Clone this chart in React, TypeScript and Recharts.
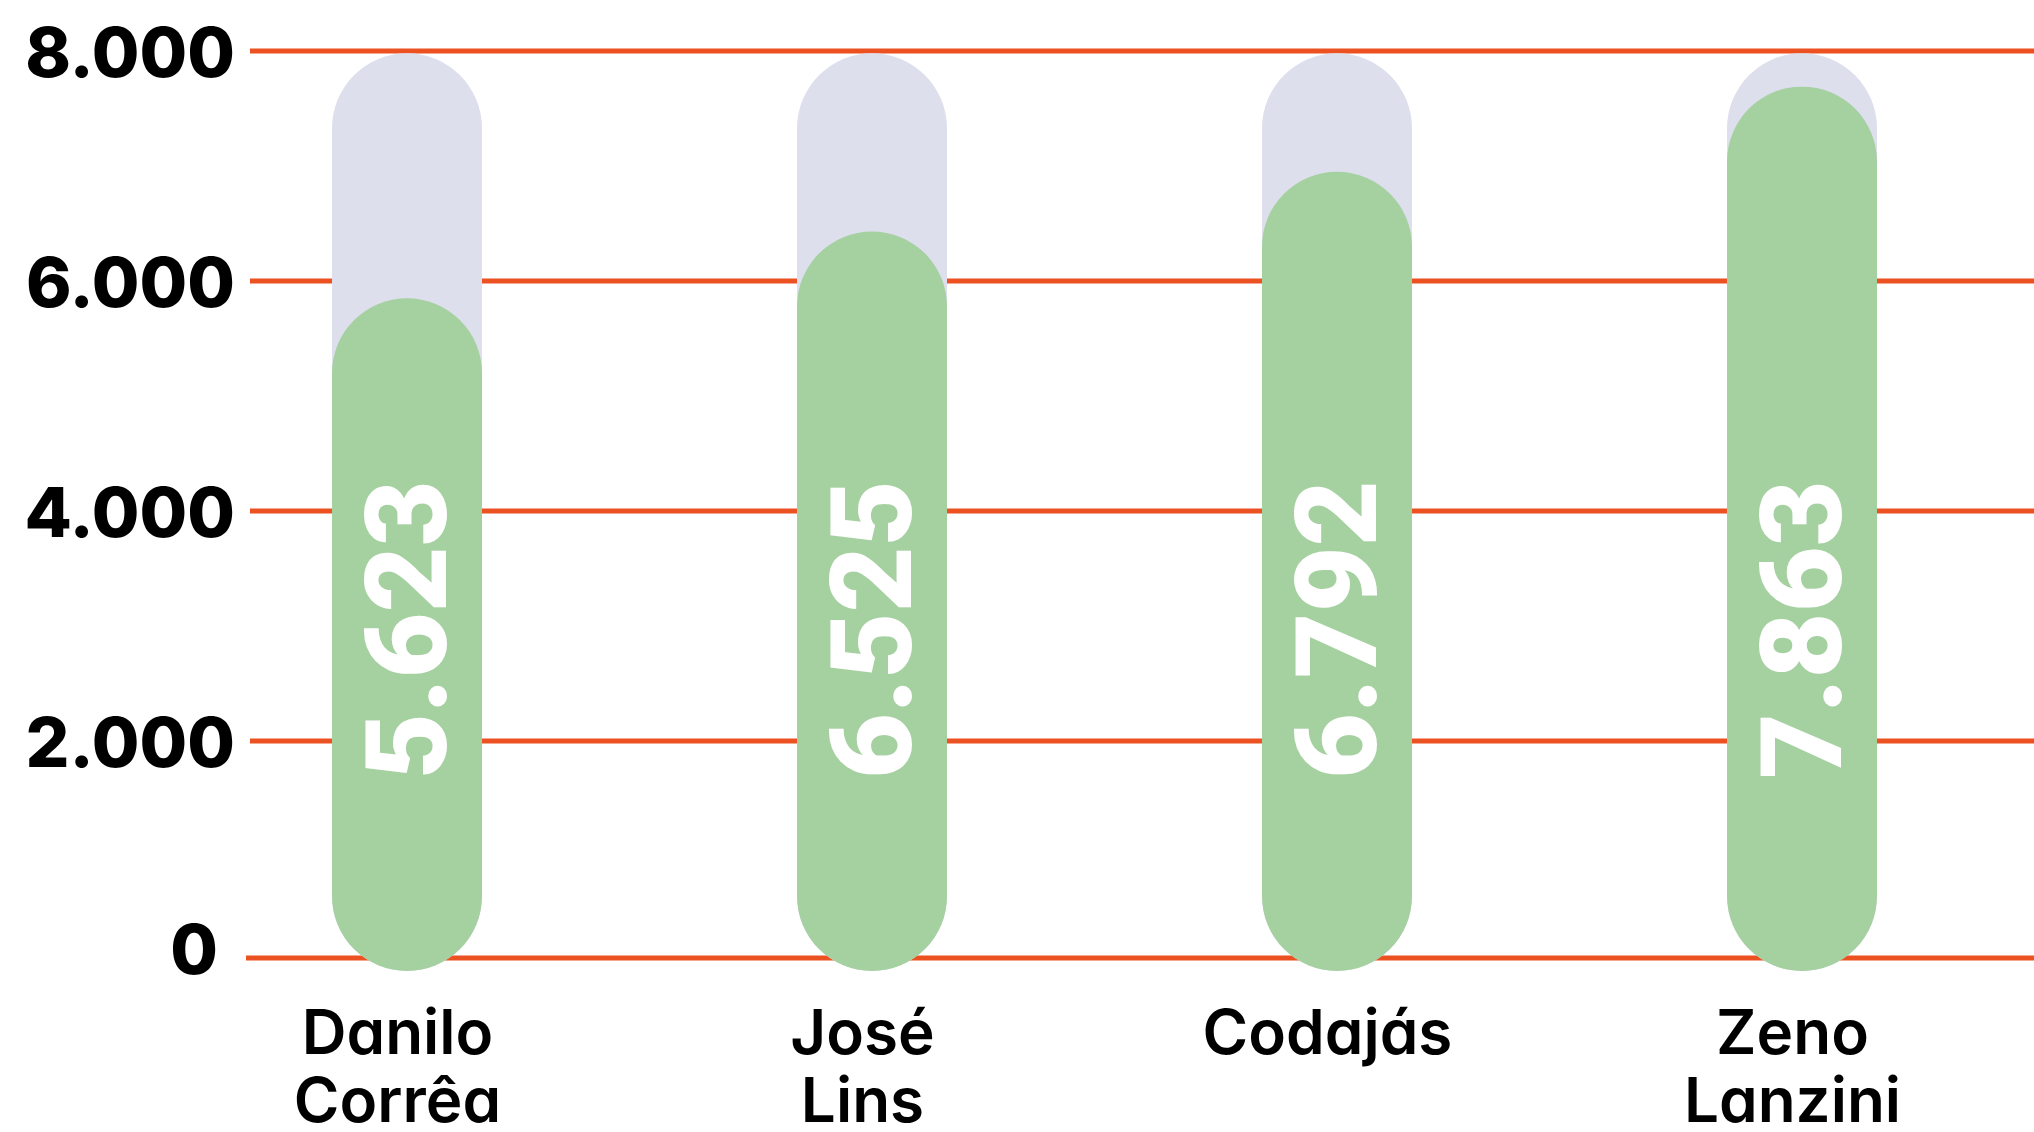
// rounded bar chart - vereadores votes

import { BarChart, Bar, XAxis, YAxis, CartesianGrid, LabelList } from "recharts";

const categories = ["Danilo Corrêa", "José Lins", "Codajás", "Zeno Lanzini"];

// bar heights as drawn in the picture
const barValues = [5850, 6430, 6950, 7690];

// text printed inside each bar
const valueLabels = ["5.623", "6.525", "6.792", "7.863"];

// light track behind each bar
const trackValues = [7980, 7980, 7980, 7980];

const yTicks = [0, 2000, 4000, 6000, 8000];
const yTickLabels = ["0", "2.000", "4.000", "6.000", "8.000"];

const data = categories.map((name, i) => ({
  name,
  value: barValues[i],
  track: trackValues[i],
  label: valueLabels[i],
}));

// layout
const W = 2034;
const H = 1132;
const TOP = 51;
const PLOT_H = 920;
const BASE_Y = TOP + PLOT_H;

const GREEN = "#a5d0a0";
const TRACK = "#dedfed";
const ORANGE = "#ec5122";

function gridLine(p: any) {
  const isBase = Math.abs(p.y1 - BASE_Y) < 1;
  const y = isBase ? p.y1 - 13 : p.y1;
  return (
    <line
      key={p.key}
      x1={p.x1 + (isBase ? 72 : 76)}
      x2={p.x2 + 10}
      y1={y}
      y2={y}
      stroke={ORANGE}
      strokeWidth={5}
    />
  );
}

function YTick(p: any) {
  const v = p.payload.value;
  const isZero = v === 0;
  return (
    <text
      x={p.x + (isZero ? 44 : 61)}
      y={isZero ? p.y - 22 : p.y + 1}
      textAnchor="end"
      dominantBaseline="central"
      fill="#000"
      style={{ fontFamily: "Inter", fontWeight: 800, fontSize: 69 }}
    >
      {yTickLabels[yTicks.indexOf(v)]}
    </text>
  );
}

function XTick(p: any) {
  const lines = String(p.payload.value).split(" ");
  const cx = p.x - 9;
  return (
    <text
      x={cx}
      y={p.y}
      textAnchor="middle"
      fill="#000"
      style={{ fontFamily: "Inter", fontWeight: 600, fontSize: 62, fontFeatureSettings: '"cv11"' }}
    >
      {lines.map((l, i) => (
        <tspan key={i} x={cx} dy={i === 0 ? 83 : 68}>
          {l}
        </tspan>
      ))}
    </text>
  );
}

function ValueLabel(p: any) {
  const { x, y, width, height, value } = p;
  const cx = x + width / 2;
  const sy = y + height - 192;
  return (
    <text
      x={cx}
      y={sy}
      transform={`rotate(-90, ${cx}, ${sy})`}
      textAnchor="start"
      dominantBaseline="central"
      fill="#fff"
      style={{ fontFamily: "Roboto", fontWeight: 900, fontSize: 114 }}
    >
      {value}
    </text>
  );
}

export default function App() {
  return (
    <div style={{ width: W, height: H, background: "#fff" }}>
      <style>{`body{margin:0}`}</style>
      <BarChart
        width={W}
        height={H}
        data={data}
        margin={{ top: TOP, right: 0, bottom: 0, left: 0 }}
        barGap={-150}
      >
        <CartesianGrid vertical={false} horizontal={gridLine} />
        <XAxis
          dataKey="name"
          height={H - BASE_Y}
          axisLine={false}
          tickLine={false}
          tickSize={0}
          tickMargin={0}
          interval={0}
          tick={<XTick />}
        />
        <YAxis
          width={174}
          domain={[0, 8000]}
          ticks={yTicks}
          axisLine={false}
          tickLine={false}
          tickSize={0}
          tickMargin={0}
          tick={<YTick />}
        />
        <Bar dataKey="track" fill={TRACK} barSize={150} radius={75} isAnimationActive={false} />
        <Bar dataKey="value" fill={GREEN} barSize={150} radius={75} isAnimationActive={false}>
          <LabelList dataKey="label" content={<ValueLabel />} />
        </Bar>
      </BarChart>
    </div>
  );
}
